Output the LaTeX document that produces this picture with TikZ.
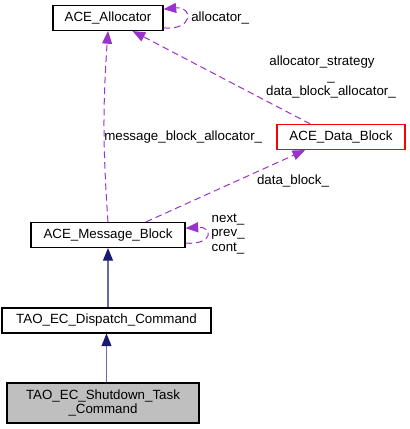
\documentclass[tikz,border=0pt]{standalone}
\usepackage{fontspec}
\setmainfont{Liberation Sans}
\usetikzlibrary{arrows.meta,positioning,calc}
\definecolor{edgepurple}{HTML}{9A32CD}
\definecolor{inhnavy}{HTML}{191970}
\definecolor{boxgray}{HTML}{BFBFBF}
\tikzset{
  classbox/.style={draw=black, line width=0.8pt, fill=white, inner sep=0pt,
    minimum height=18.75pt, align=center,
    font=\fontsize{10}{10.5}\selectfont},
  assocedge/.style={edgepurple, line width=0.75pt, dash pattern=on 5pt off 3pt,
    -{Triangle[length=9.5pt, width=7.5pt]}},
  inhedge/.style={draw=inhnavy!65!white, line width=1pt,
    -{Triangle[length=9.5pt, width=7.5pt, color=inhnavy]}},
  edgelabel/.style={inner sep=0pt, align=center,
    font=\fontsize{10}{11}\selectfont},
}

\begin{document}
\begin{tikzpicture}[x=0.75pt, y=-0.75pt]
\useasboundingbox (0,0) rectangle (410,429);

%% ── Classes ──────────────────────────────────────────────────────────────
\node[classbox, minimum width=82.5pt] (alloc) at (108,18) {ACE\_Allocator};
\node[classbox, draw=red, minimum width=96pt] (datablk) at (341,137) {ACE\_Data\_Block};
\node[classbox, minimum width=115.5pt] (msgblk) at (108,235) {ACE\_Message\_Block};
\node[classbox, minimum width=156.75pt] (dispatch) at (106.5,320.5) {TAO\_EC\_Dispatch\_Command};
\node[classbox, fill=boxgray, minimum width=144pt, minimum height=30pt]
  (shutdown) at (103,403) {TAO\_EC\_Shutdown\_Task\\\_Command};

%% ── Usage relations ──────────────────────────────────────────────────────
\draw[assocedge] (msgblk.north) to[bend left=4] (alloc.south);
\node[edgelabel, anchor=west] (msgalloclbl) at (104,137) {message\_block\_allocator\_};

\draw[assocedge] (datablk.157) -- (alloc.-28);
\node[edgelabel] (strategylbl) at (331,77)
  {allocator\_strategy\rule{13.5pt}{0pt}\\\_\\data\_block\_allocator\_};

\draw[assocedge] (msgblk.19) -- (datablk.200);
\node[edgelabel] (datablklbl) at (293,181) {data\_block\_};

\draw[assocedge] (alloc.-10) .. controls +(30,3) and +(30,-3) .. (alloc.9);
\node[edgelabel, anchor=west] (alloclbl) at (191,18) {allocator\_};

\draw[assocedge] (msgblk.-6) .. controls +(28,2) and +(28,-2) .. (msgblk.5);
\node[edgelabel] (linklbl) at (228,234) {next\_\\prev\_\\cont\_};

%% ── Inheritance ──────────────────────────────────────────────────────────
\draw[inhedge] (dispatch.north -| msgblk.south) -- (msgblk.south);
\draw[inhedge] (shutdown.north -| dispatch.south) -- (dispatch.south);

\end{tikzpicture}
\end{document}
